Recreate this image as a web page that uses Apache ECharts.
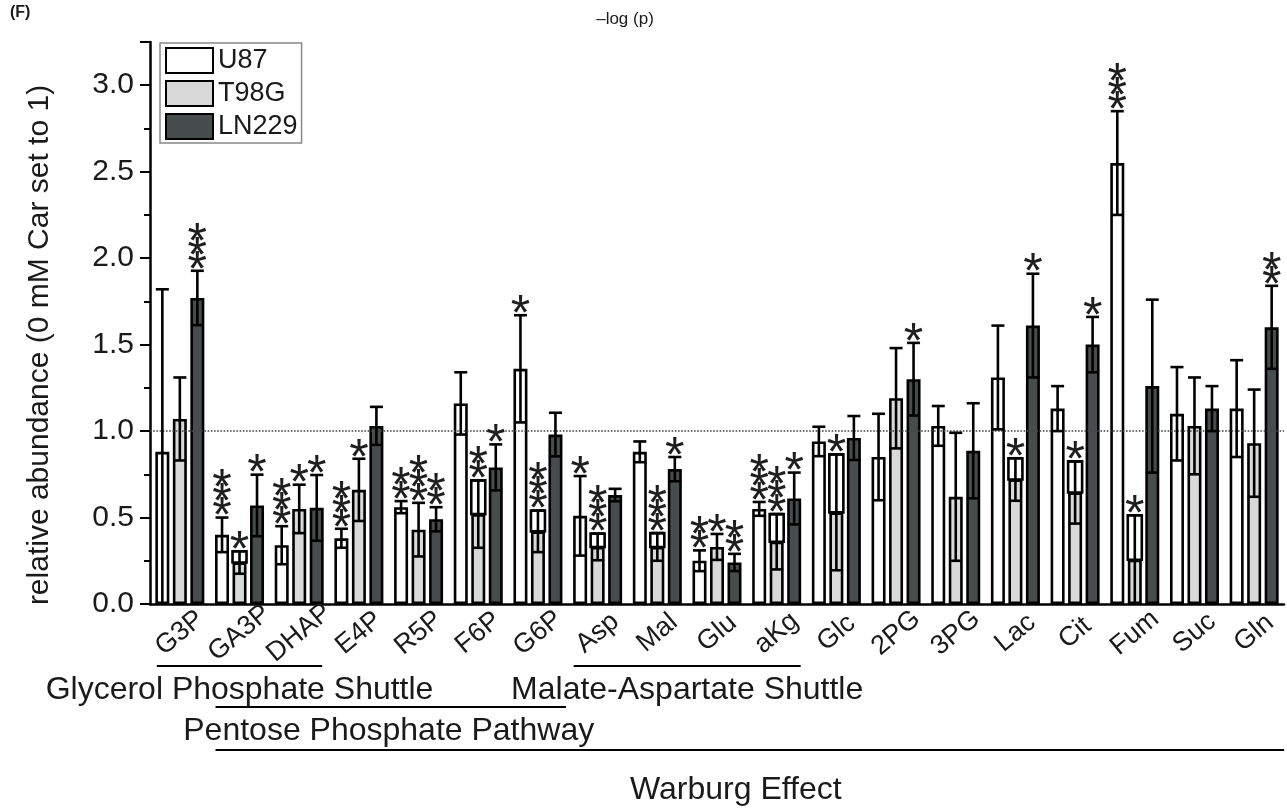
<!DOCTYPE html>
<html><head><meta charset="utf-8">
<script src="https://cdn.jsdelivr.net/npm/echarts@6/dist/echarts.min.js"></script>
<style>html,body{margin:0;padding:0;background:#fff}#c{width:1287px;height:811px}</style>
</head><body><div id="c"></div>
<script>
const categories = ['G3P','GA3P','DHAP','E4P','R5P','F6P','G6P','Asp','Mal','Glu','aKg','Glc','2PG','3PG','Lac','Cit','Fum','Suc','Gln'];
const seriesNames = ['U87','T98G','LN229'];
const u87 =      [0.88, 0.40, 0.34, 0.38, 0.56, 1.16, 1.36, 0.51, 0.88, 0.25, 0.55, 0.94, 0.85, 1.03, 1.31, 1.13, 2.55, 1.10, 1.13];
const u87Err =   [0.94, 0.10, 0.11, 0.055,0.035,0.18, 0.31, 0.23, 0.06, 0.06, 0.04, 0.085,0.25, 0.115,0.30, 0.13, 0.30, 0.27, 0.28];
const t98g =     [1.07, 0.24, 0.55, 0.66, 0.43, 0.52, 0.42, 0.33, 0.33, 0.33, 0.36, 0.53, 1.19, 0.62, 0.72, 0.645,0.256,1.03, 0.93];
const t98gErr =  [0.24, 0.065,0.14, 0.18, 0.155,0.195,0.12, 0.077,0.08, 0.075,0.16, 0.335,0.29, 0.37, 0.123,0.18, 0.257,0.28, 0.31];
const ln229 =    [1.77, 0.57, 0.556,1.03, 0.49, 0.79, 0.98, 0.63, 0.78, 0.24, 0.61, 0.96, 1.30, 0.886,1.61, 1.50, 1.26, 1.13, 1.60];
const ln229Err = [0.157,0.178,0.19, 0.11, 0.07, 0.133,0.126,0.036,0.07, 0.05, 0.15, 0.127,0.21, 0.275,0.30, 0.16, 0.50, 0.13, 0.24];
const u87Stars =   [0,3,3,3,2,0,1,1,0,2,3,0,0,0,0,0,3,0,0];
const t98gStars =  [0,1,1,1,3,2,3,3,3,1,3,1,0,0,1,1,1,0,0];
const ln229Stars = [3,1,1,0,2,1,0,0,1,2,1,0,1,0,1,1,0,0,2];
const t98gBoxed =  [0,1,0,0,0,1,1,1,1,0,1,1,0,0,1,1,1,0,0];
const yTicks = [0, 0.5, 1.0, 1.5, 2.0, 2.5, 3.0];
const pathNames = ['Glycerol Phosphate Shuttle','Malate-Aspartate Shuttle','Pentose Phosphate Pathway','Warburg Effect'];
const pathFrom = ['G3P','Asp','GA3P','GA3P'];
const pathTo =   ['DHAP','aKg','G6P','Gln'];

const FONT = '"Liberation Sans", Arial, Helvetica, sans-serif';
const BAR_W = 14, GAP = 3.5;
const colors = ['#ffffff', '#d9d9d9', '#474d4d'];
const chart = echarts.init(document.getElementById('c'), null, {renderer: 'canvas'});

function barSeries(idx, vals) {
  return {
    type: 'bar', name: seriesNames[idx], data: vals, barWidth: BAR_W, barGap: (GAP / BAR_W * 100) + '%',
    z: 2, silent: true,
    itemStyle: {color: colors[idx], borderColor: '#000', borderWidth: 2.6}
  };
}
function errSeries(idx, vals, errs, stars, boxed) {
  return {
    type: 'custom', name: seriesNames[idx] + ' error', z: 5, silent: true,
    data: vals.map((v, i) => [i, v, errs[i], stars[i], boxed ? boxed[i] : 0]),
    encode: {x: 0, y: 1},
    renderItem(params, api) {
      const i = api.value(0), v = api.value(1), e = api.value(2), ns = api.value(3), bx = api.value(4);
      const c = api.coord([i, v]);
      const x = c[0] + (idx - 1) * (BAR_W + GAP);
      const yTop = api.coord([i, v + e])[1];
      const yBot = api.coord([i, Math.max(0, v - e)])[1];
      const hw = 6.5;
      const ls = {stroke: '#000', lineWidth: 2.6};
      const children = [];
      if (bx) children.push({type: 'rect', shape: {x: x - BAR_W / 2, y: yTop, width: BAR_W, height: c[1] - yTop},
        style: {fill: '#fff', stroke: '#000', lineWidth: 2.6}});
      children.push({type: 'line', shape: {x1: x, y1: yTop, x2: x, y2: yBot}, style: ls});
      children.push({type: 'line', shape: {x1: x - hw, y1: yTop, x2: x + hw, y2: yTop}, style: ls});
      if (v - e > 0) children.push({type: 'line', shape: {x1: x - hw, y1: yBot, x2: x + hw, y2: yBot}, style: ls});
      for (let j = 0; j < ns; j++) {
        children.push({type: 'text', style: {text: '*', x: x, y: yTop + 1 - j * 14, align: 'center',
          verticalAlign: 'middle', fontSize: 50, fontFamily: FONT, fill: '#1e1e1e'}});
      }
      return {type: 'group', children};
    }
  };
}

chart.setOption({
  animation: false,
  grid: {left: 150, right: 3, top: 42, bottom: 207},
  legend: {
    data: seriesNames, orient: 'vertical', left: 160, top: 43, icon: 'rect',
    itemWidth: 47, itemHeight: 25, itemGap: 6, padding: [4, 4, 3, 5],
    borderColor: '#888', borderWidth: 1.5, backgroundColor: '#fff',
    textStyle: {fontSize: 27, fontFamily: FONT, color: '#1a1a1a', padding: [0, 0, 0, 0]},
    selectedMode: false
  },
  xAxis: {
    type: 'category', data: categories,
    axisLine: {lineStyle: {color: '#000', width: 2.5}},
    axisTick: {alignWithLabel: true, length: 9, lineStyle: {color: '#000', width: 2}},
    axisLabel: {interval: 0, rotate: 40, margin: 29, align: 'center', verticalAlign: 'middle',
      fontSize: 27, fontFamily: FONT, color: '#1a1a1a'}
  },
  yAxis: {
    type: 'value', min: 0, max: 3.25, interval: 0.5,
    axisLine: {show: true, lineStyle: {color: '#000', width: 2.5}},
    axisTick: {show: true, length: 10, lineStyle: {color: '#000', width: 2}},
    minorTick: {show: true, splitNumber: 2, length: 6, lineStyle: {color: '#000', width: 2}},
    splitLine: {show: false},
    axisLabel: {fontSize: 30, fontFamily: FONT, color: '#1a1a1a', margin: 16,
      formatter: v => yTicks.some(t => Math.abs(t - v) < 1e-9) ? v.toFixed(1) : ''}
  },
  series: [
    {type: 'line', name: 'ref', data: [], z: 1, silent: true,
     markLine: {silent: true, symbol: 'none', label: {show: false},
       lineStyle: {type: 'dotted', color: '#444', width: 1.6}, data: [{yAxis: 1}]}},
    barSeries(0, u87), barSeries(1, t98g), barSeries(2, ln229),
    errSeries(0, u87, u87Err, u87Stars, null),
    errSeries(1, t98g, t98gErr, t98gStars, t98gBoxed),
    errSeries(2, ln229, ln229Err, ln229Stars, null)
  ]
});

const px = name => chart.convertToPixel({xAxisIndex: 0}, categories.indexOf(name));
const lineY = [666, 666, 707, 750];
const textY = [690, 690, 731, 790];
const textDx = [0, 0, -2, -14];
const extL = [23, 24, 24, 24];
const extR = [23, 24, 28, 30];
const graphics = [
  {type: 'text', x: 10, y: 5, style: {text: '(F)', fontSize: 16, fontWeight: 'bold', fontFamily: FONT, fill: '#1a1a1a'}},
  {type: 'text', x: 625, y: 19, style: {text: '\u2013log (p)', fontSize: 17, fontFamily: FONT, fill: '#1a1a1a', align: 'center', verticalAlign: 'middle'}},
  {type: 'text', x: 40, y: 345, rotation: Math.PI / 2,
   style: {text: 'relative abundance (0 mM Car set to 1)', fontSize: 30, fontFamily: FONT, fill: '#1a1a1a', align: 'center', verticalAlign: 'middle'}}
];
pathNames.forEach((n, k) => {
  const x1 = px(pathFrom[k]) - extL[k], x2 = px(pathTo[k]) + extR[k];
  graphics.push({type: 'line', shape: {x1, y1: lineY[k], x2, y2: lineY[k]}, style: {stroke: '#000', lineWidth: 2.2}});
  graphics.push({type: 'text', x: (x1 + x2) / 2 + textDx[k], y: textY[k],
    style: {text: n, fontSize: 32, fontFamily: FONT, fill: '#1a1a1a', align: 'center', verticalAlign: 'middle'}});
});
chart.setOption({graphic: graphics});
</script>
</body></html>
